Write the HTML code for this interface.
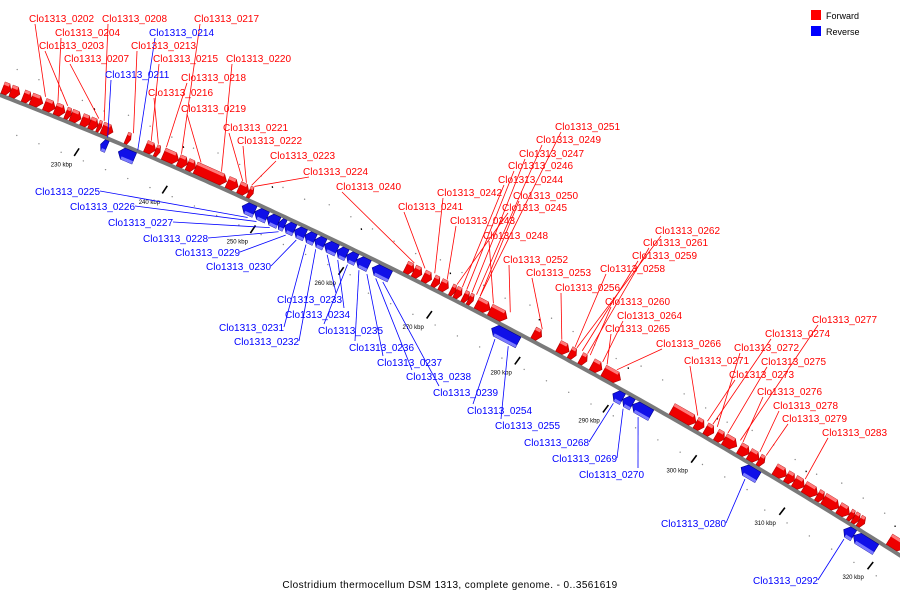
<!DOCTYPE html>
<html><head><meta charset="utf-8"><style>
html,body{margin:0;padding:0;background:#fff;}
svg{display:block;font-family:"Liberation Sans",sans-serif;}
</style></head><body>
<svg id="chart" width="900" height="600" viewBox="0 0 900 600" xmlns="http://www.w3.org/2000/svg">
<g id="ticks"></g>
<path id="backbone" fill="none" stroke="#7a7a7a" stroke-width="4"/>
<g id="genes"></g>
<g id="labels"></g>
<g>
<rect x="811" y="10" width="10" height="10" fill="#f00"/>
<text x="826" y="19" font-size="9" fill="#000">Forward</text>
<rect x="811" y="26" width="10" height="10" fill="#00f"/>
<text x="826" y="35" font-size="9" fill="#000">Reverse</text>
</g>
<text x="450" y="588" font-size="10" text-anchor="middle" letter-spacing="0.4" fill="#000">Clostridium thermocellum DSM 1313, complete genome. - 0..3561619</text>
</svg>
<script>
const tickKbp=[230,240,250,260,270,280,290,300,310,320];
const fwdStart=[220.3,221.2,222.6,223.5,225.0,226.2,227.4,228.0,229.2,230.1,231.0,231.5,234.2,236.4,237.5,238.4,240.1,241.1,242.0,245.6,246.9,248.0,265.7,266.6,267.7,268.8,269.6,270.8,271.3,272.2,272.8,273.7,275.2,280.1,282.9,284.2,285.4,286.7,288.0,295.7,298.4,299.5,300.7,301.6,303.3,304.4,305.5,307.3,308.6,309.5,310.6,312.1,312.8,314.5,315.7,316.2,316.8,320.2];
const fwdEnd=[221.2,222.2,223.5,224.8,226.2,227.3,228.0,229.1,230.2,231.0,231.4,232.7,234.7,237.5,238.0,240.1,241.1,242.0,245.5,246.8,248.0,248.5,266.6,267.5,268.6,269.5,270.5,271.3,272.0,272.8,273.3,275.2,277.1,281.0,284.1,284.9,286.1,287.8,289.9,298.4,299.3,300.4,301.6,303.0,304.4,305.5,306.1,308.6,309.5,310.6,312.1,312.8,314.5,315.7,316.2,316.8,317.4,321.9];
const revStart=[232.0,234.0,248.0,249.4,250.8,252.1,252.8,253.9,255.1,256.2,257.3,258.7,259.8,260.9,262.7,276.2,289.9,291.0,292.1,304.4,316.0,317.1];
const revEnd=[232.7,235.8,249.4,250.8,252.1,252.8,253.9,255.1,256.2,257.3,258.7,259.8,260.9,262.3,264.7,279.2,291.0,292.1,294.2,306.3,317.1,319.6];
const labelNames=["Clo1313_0202","Clo1313_0208","Clo1313_0217","Clo1313_0204","Clo1313_0214","Clo1313_0203","Clo1313_0213","Clo1313_0207","Clo1313_0215","Clo1313_0220","Clo1313_0211","Clo1313_0218","Clo1313_0216","Clo1313_0219","Clo1313_0221","Clo1313_0222","Clo1313_0223","Clo1313_0224","Clo1313_0240","Clo1313_0251","Clo1313_0249","Clo1313_0247","Clo1313_0246","Clo1313_0244","Clo1313_0242","Clo1313_0250","Clo1313_0241","Clo1313_0245","Clo1313_0243","Clo1313_0248","Clo1313_0252","Clo1313_0253","Clo1313_0262","Clo1313_0261","Clo1313_0259","Clo1313_0258","Clo1313_0256","Clo1313_0260","Clo1313_0264","Clo1313_0265","Clo1313_0266","Clo1313_0277","Clo1313_0274","Clo1313_0272","Clo1313_0271","Clo1313_0275","Clo1313_0273","Clo1313_0276","Clo1313_0278","Clo1313_0279","Clo1313_0283","Clo1313_0225","Clo1313_0226","Clo1313_0227","Clo1313_0228","Clo1313_0229","Clo1313_0230","Clo1313_0233","Clo1313_0234","Clo1313_0231","Clo1313_0235","Clo1313_0232","Clo1313_0236","Clo1313_0237","Clo1313_0238","Clo1313_0239","Clo1313_0254","Clo1313_0255","Clo1313_0268","Clo1313_0269","Clo1313_0270","Clo1313_0280","Clo1313_0292"];
const labelX=[29,102,194,55,149,39,131,64,153,226,105,181,148,181,223,237,270,303,336,555,536,519,508,498,437,513,398,502,450,483,503,526,655,643,632,600,555,605,617,605,656,812,765,734,684,761,729,757,773,782,822,35,70,108,143,175,206,277,285,219,318,234,349,377,406,433,467,495,524,552,579,661,753];
const labelY=[18,18,18,32,32,45,45,58,58,58,74,77,92,108,127,140,155,171,186,126,139,153,165,179,192,195,206,207,220,235,259,272,230,242,255,268,287,301,315,328,343,319,333,347,360,361,374,391,405,418,432,191,206,222,238,252,266,299,314,327,330,341,347,362,376,392,410,425,442,458,474,523,580];
const labelTarget=[224.8,231.4,240.1,226.2,235.8,227.3,234.7,230.8,236.7,244.6,232.4,238.4,237.5,242.3,247.0,247.4,248.0,248.3,266.3,273.7,273.3,272.8,272.2,271.7,268.6,273.7,267.5,271.1,270.0,275.2,277.1,280.7,284.6,285.8,285.2,284.4,282.9,286.1,287.5,288.0,289.1,303.0,299.9,300.4,298.2,301.6,299.3,303.3,305.2,305.9,310.3,249,250,251.5,252.5,253.3,254.5,258,259.2,255.6,260.3,256.7,261.6,262.5,263.5,264.3,277,278.5,290.4,291.5,293.2,305.3,316.5];
const labelStrand=["f","f","f","f","ra","f","f","f","f","f","ra","f","f","f","f","f","f","f","f","f","f","f","f","f","f","f","f","f","f","f","f","f","f","f","f","f","f","f","f","f","f","f","f","f","f","f","f","f","f","f","f","r","r","r","r","r","r","r","r","r","r","r","r","r","r","r","r","r","r","r","r","r","r"];

const NS='http://www.w3.org/2000/svg';
function xOf(k){return 86+(k-230)*8.86;}
function yLine(x){return 95+0.39*x+0.000135*x*x;}
function slope(x){return 0.39+0.00027*x;}
function pt(k,d){const x=xOf(k),s=slope(x),n=Math.sqrt(1+s*s);return [x+d*s/n,yLine(x)-d/n];}
function mk(tag,attrs,parent){const e=document.createElementNS(NS,tag);for(const a in attrs)e.setAttribute(a,attrs[a]);parent.appendChild(e);return e;}

let d='';for(let x=-5;x<=905;x+=5){d+=(x===-5?'M':'L')+x+','+yLine(x).toFixed(1);}
document.getElementById('backbone').setAttribute('d',d);

const tg=document.getElementById('ticks');
tickKbp.forEach(k=>{
  const a=pt(k,-22),b=pt(k,-27);
  const t=mk('line',{x1:a[0]+1.5,y1:a[1]-1.5,x2:b[0]-1.5,y2:b[1]+1.5,stroke:'#000','stroke-width':1.6},tg);
  
  
  const c=pt(k,20),e=pt(k,24);
  const t2=mk('line',{x1:c[0]+1,y1:c[1]-1,x2:e[0]-1,y2:e[1]+1,stroke:'#000','stroke-width':1.3},tg);
  
  
  const l=pt(k,-38);
  const tx=mk('text',{x:l[0]-10,y:l[1]+2,'font-size':6,'text-anchor':'middle',fill:'#000'},tg);
  tx.textContent=k+' kbp';
  
  
});
for(let k=221;k<322;k+=2.5){
  [[-14-((k*7)%9)-10],[16+((k*5)%7)+8]].forEach(o=>{const p=pt(k,o[0]);
    const c=mk('circle',{cx:p[0],cy:p[1],r:0.7,fill:'#888'},tg);
    
    });
}

const gg=document.getElementById('genes');
function gene(s,e,fwd,i){
  const d0=fwd?2:-2, d1=fwd?14:-14;
  const head=Math.min((e-s)*0.4,0.5);
  let p;
  if(fwd){p=[pt(s,d0),pt(e-head,d0),pt(e,(d0+d1)/2),pt(e-head,d1),pt(s,d1)];}
  else{p=[pt(s+head,d0),pt(e,d0),pt(e,d1),pt(s+head,d1),pt(s,(d0+d1)/2)];}
  const g=mk('g',{},gg);
  
  
  mk('polygon',{points:p.map(q=>q.join(',')).join(' '),fill:fwd?'#e00':'#1010e8',stroke:fwd?'#a00':'#008',"stroke-width":0.6},g);
  const hl=fwd?[pt(s,d1),pt(e-head,d1),pt(e-head,d1-3),pt(s,d1-3)]:[pt(s+head,d1),pt(e,d1),pt(e,d1+3),pt(s+head,d1+3)];
  mk('polygon',{points:hl.map(q=>q.join(',')).join(' '),fill:fwd?'#ff7a7a':'#7a7aff'},g);
}
fwdStart.forEach((s,i)=>gene(s,fwdEnd[i],true,i));
revStart.forEach((s,i)=>gene(s,revEnd[i],false,i));

const lg=document.getElementById('labels');
labelNames.forEach((nm,i)=>{
  const st=labelStrand[i], col=st==='f'?'#f00':'#00f';
  const lx=labelX[i], ly=labelY[i], w=65;
  const tgt=pt(labelTarget[i], st==='f'?15:(st==='ra'?1:-16));
  let sx,sy;
  if(st!=='r'){sx=lx+6;sy=ly+6;}
  else if(tgt[0]>lx+w){sx=lx+w;sy=ly;}
  else if(tgt[0]>lx+30){sx=lx+w-6;sy=ly-6;}
  else{sx=lx+6;sy=ly-6;}
  const ln=mk('line',{x1:sx,y1:sy,x2:tgt[0],y2:tgt[1],stroke:col,'stroke-width':0.8},lg);
  
  
  const t=mk('text',{x:lx,y:ly+4,'font-size':10,fill:col},lg);
  t.textContent=nm;
  
  
});
</script>
</body></html>
